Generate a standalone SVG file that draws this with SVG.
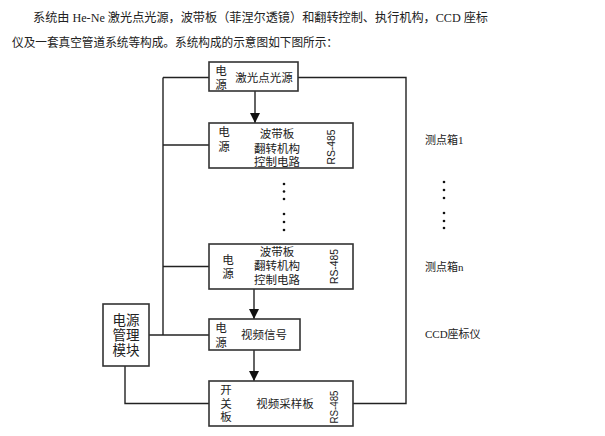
<svg xmlns="http://www.w3.org/2000/svg" width="605" height="436" viewBox="0 0 605 436">
<style>
text{font-family:"Liberation Serif","Noto Sans CJK SC",serif;fill:#222}
.hd{font-size:12.5px}
.t{font-size:11.5px;text-anchor:middle}
.pm{font-size:13.5px;text-anchor:middle}
.rs{font-family:"Liberation Sans","Noto Sans CJK SC",sans-serif;font-size:10px;text-anchor:middle}
.lb{font-size:11px}
.box{fill:#fff;stroke:#333;stroke-width:1.6}
.ln{fill:none;stroke:#222;stroke-width:1.4}
.dot{fill:#111}
</style>
<defs>
<marker id="ah" markerWidth="10" markerHeight="10" refX="10" refY="5" orient="auto" markerUnits="userSpaceOnUse">
<path d="M0,0 L10,5 L0,10 Z" fill="#111"/>
</marker>
</defs>
<rect width="605" height="436" fill="#fff"/>
<text class="hd" x="33" y="22" textLength="455" lengthAdjust="spacingAndGlyphs">系统由 He-Ne 激光点光源，波带板（菲涅尔透镜）和翻转控制、执行机构，CCD 座标</text>
<text class="hd" x="12" y="47" textLength="326" lengthAdjust="spacingAndGlyphs">仪及一套真空管道系统等构成。系统构成的示意图如下图所示：</text>

<g id="connectors">
<path class="ln" d="M163,77.5 V335"/>
<path class="ln" d="M163,77.5 H209"/>
<path class="ln" d="M163,145 H209"/>
<path class="ln" d="M163,266.5 H209"/>
<path class="ln" d="M149,335 H209"/>
<path class="ln" d="M298,77.5 H406 V403.5 H353"/>
<path class="ln" d="M125,366 V403.5 H209"/>
<path class="ln" d="M255,91 V123" marker-end="url(#ah)"/>
<path class="ln" d="M254,289 V319" marker-end="url(#ah)"/>
<path class="ln" d="M254,350 V381" marker-end="url(#ah)"/>
</g>

<g id="laser">
<rect class="box" x="209" y="62" width="89" height="29"/>
<text class="t" x="221" y="75">电</text>
<text class="t" x="221" y="89">源</text>
<text class="t" x="264" y="81.5">激光点光源</text>
</g>

<g id="box1">
<rect class="box" x="209" y="123" width="144" height="45"/>
<text class="t" x="224" y="136">电</text>
<text class="t" x="224" y="151">源</text>
<text class="t" x="277" y="138">波带板</text>
<text class="t" x="277" y="153">翻转机构</text>
<text class="t" x="277" y="166">控制电路</text>
<text class="rs" transform="translate(335,147) rotate(-90)" textLength="35" lengthAdjust="spacingAndGlyphs">RS-485</text>
</g>

<g id="dots-mid">
<circle class="dot" cx="284" cy="184" r="1.3"/>
<circle class="dot" cx="284" cy="191.5" r="1.3"/>
<circle class="dot" cx="284" cy="199" r="1.3"/>
<circle class="dot" cx="284" cy="214" r="1.3"/>
<circle class="dot" cx="284" cy="222" r="1.3"/>
<circle class="dot" cx="284" cy="230" r="1.3"/>
</g>

<g id="boxn">
<rect class="box" x="209" y="244" width="144" height="45"/>
<text class="t" x="228" y="264">电</text>
<text class="t" x="228" y="278">源</text>
<text class="t" x="277" y="256">波带板</text>
<text class="t" x="277" y="270">翻转机构</text>
<text class="t" x="277" y="284">控制电路</text>
<text class="rs" transform="translate(338,266.5) rotate(-90)" textLength="35" lengthAdjust="spacingAndGlyphs">RS-485</text>
</g>

<g id="video">
<rect class="box" x="209" y="319" width="91" height="31"/>
<text class="t" x="221" y="332">电</text>
<text class="t" x="221" y="347">源</text>
<text class="t" x="264" y="339">视频信号</text>
</g>

<g id="power">
<rect class="box" x="103" y="304" width="46" height="62"/>
<text class="pm" x="126" y="325">电源</text>
<text class="pm" x="126" y="340">管理</text>
<text class="pm" x="126" y="355">模块</text>
</g>

<g id="sampler">
<rect class="box" x="209" y="381" width="144" height="45"/>
<text class="t" x="226" y="394">开</text>
<text class="t" x="226" y="407.5">关</text>
<text class="t" x="226" y="421">板</text>
<text class="t" x="285" y="407.5">视频采样板</text>
<text class="rs" transform="translate(338,407) rotate(-90)" textLength="33" lengthAdjust="spacingAndGlyphs">RS-485</text>
</g>

<g id="labels">
<text class="lb" x="425" y="144">测点箱1</text>
<circle class="dot" cx="444" cy="182" r="1.3"/>
<circle class="dot" cx="444" cy="190" r="1.3"/>
<circle class="dot" cx="444" cy="198" r="1.3"/>
<circle class="dot" cx="444" cy="213" r="1.3"/>
<circle class="dot" cx="444" cy="221" r="1.3"/>
<circle class="dot" cx="444" cy="228" r="1.3"/>
<text class="lb" x="425" y="271">测点箱n</text>
<text class="lb" x="425" y="338">CCD座标仪</text>
</g>
</svg>
